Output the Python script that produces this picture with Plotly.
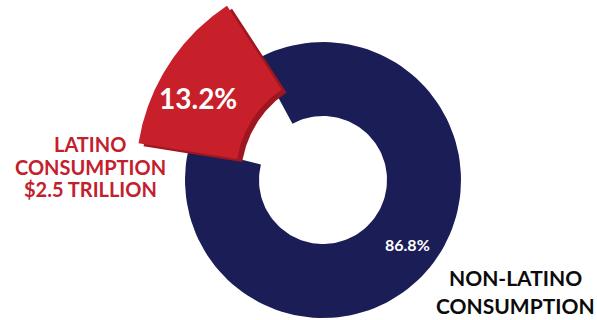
import numpy as np
import plotly.graph_objects as go

# ---- data ----
categories = ["LATINO CONSUMPTION", "NON-LATINO CONSUMPTION"]
shares = [13.2, 86.8]
share_labels = ["13.2%", "86.8%"]
latino_label_lines = ["LATINO", "CONSUMPTION", "$2.5 TRILLION"]
non_latino_label_lines = ["NON-LATINO", "CONSUMPTION"]

# ---- style / geometry ----
W, H = 597, 320
NAVY = "#1b1d57"
RED = "#c8202b"
RED_SIDE = "#9e1620"
RED_TEXT = "#c3202e"
FONT = "Lato"

ring = dict(cx=323, cy=180, R=138, r=64, start=166)     # back ring (navy)
front = dict(cx=339, cy=175, R=203, r=103, start=171)   # pulled-out slice (red)


def wedge(g, a0, sweep, dx=0.0, dy=0.0, n=120):
    th = np.radians(a0 - np.linspace(0, sweep, n))
    xo = g["cx"] + dx + g["R"] * np.cos(th)
    yo = g["cy"] + dy - g["R"] * np.sin(th)
    xi = g["cx"] + dx + g["r"] * np.cos(th[::-1])
    yi = g["cy"] + dy - g["r"] * np.sin(th[::-1])
    return np.concatenate([xo, xi, xo[:1]]), np.concatenate([yo, yi, yo[:1]])


def mid(g, a0, sweep, frac=0.5):
    a = np.radians(a0 - sweep / 2)
    rr = g["r"] + frac * (g["R"] - g["r"])
    return g["cx"] + rr * np.cos(a), g["cy"] - rr * np.sin(a)


total = sum(shares)
sweeps = [360 * s / total for s in shares]

fig = go.Figure()

# navy ring: remainder after the Latino slice
navy_start = ring["start"] - sweeps[0]
x, y = wedge(ring, navy_start, sweeps[1])
fig.add_trace(go.Scatter(x=x, y=y, fill="toself", fillcolor=NAVY, mode="lines",
                         line=dict(width=0), name=categories[1], hoverinfo="name"))

# red slice: side face then front face
x, y = wedge(front, front["start"], sweeps[0], dx=5, dy=3)
fig.add_trace(go.Scatter(x=x, y=y, fill="toself", fillcolor=RED_SIDE, mode="lines",
                         line=dict(width=0), hoverinfo="skip", showlegend=False))
x, y = wedge(front, front["start"], sweeps[0])
fig.add_trace(go.Scatter(x=x, y=y, fill="toself", fillcolor=RED, mode="lines",
                         line=dict(width=0), name=categories[0], hoverinfo="name"))

annotations = []
# percentage labels
px, py = mid(front, front["start"], sweeps[0], 0.55)
annotations.append(dict(x=px - 8, y=py + 8, text=share_labels[0], showarrow=False,
                        font=dict(family=FONT, size=28, color="white", weight="bold")))
px, py = mid(ring, navy_start, sweeps[1], 0.5)
annotations.append(dict(x=px + 5, y=py + 3, text=share_labels[1], showarrow=False,
                        font=dict(family=FONT, size=16, color="white", weight="bold")))

# category labels
for i, line in enumerate(latino_label_lines):
    annotations.append(dict(x=90, y=144 + 22.5 * i, text=line, showarrow=False,
                            font=dict(family=FONT, size=20, color=RED_TEXT, weight="bold")))
for i, line in enumerate(non_latino_label_lines):
    annotations.append(dict(x=515, y=277 + 28 * i, text=line, showarrow=False,
                            font=dict(family=FONT, size=21, color="#0b0b0b", weight="bold")))

fig.update_layout(
    width=W, height=H, margin=dict(l=0, r=0, t=0, b=0),
    paper_bgcolor="white", plot_bgcolor="white", showlegend=False,
    xaxis=dict(range=[0, W], visible=False, fixedrange=True),
    yaxis=dict(range=[H, 0], visible=False, fixedrange=True),
    annotations=annotations,
)

fig.write_html("out.html")
